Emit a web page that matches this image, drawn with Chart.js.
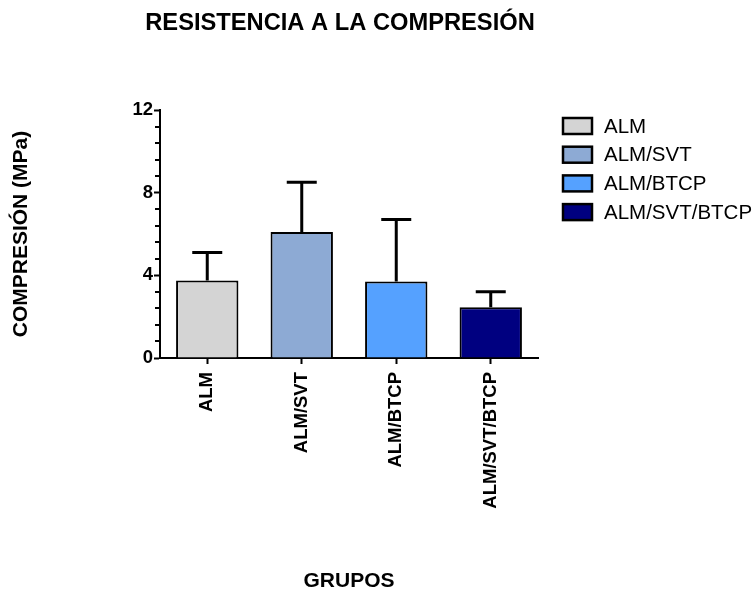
<!DOCTYPE html>
<html>
<head>
<meta charset="utf-8">
<script src="https://cdn.jsdelivr.net/npm/chart.js@4/dist/chart.umd.min.js"></script>
<style>
  html, body { margin: 0; padding: 0; background: #ffffff; }
  #wrap { width: 754px; height: 595px; }
</style>
</head>
<body>
<div id="wrap"><canvas id="grafico" width="754" height="595"></canvas></div>
<script>
// Compression strength per group (mean and standard deviation, MPa)
const grupos = ['ALM', 'ALM/SVT', 'ALM/BTCP', 'ALM/SVT/BTCP'];
const mediaCompresion = [3.75, 6.1, 3.7, 2.45];
const desviacion = [1.35, 2.4, 3.0, 0.75];
const coloresGrupo = ['#D4D4D4', '#8DAAD4', '#55A1FF', '#000080'];
const marcasY = [0, 4, 8, 12];
const pasoMenorY = 0.8;

const titulo = 'RESISTENCIA A LA COMPRESIÓN';
const tituloY = 'COMPRESIÓN (MPa)';
const tituloX = 'GRUPOS';

const FAMILIA = '"Liberation Sans", Arial, Helvetica, sans-serif';

// Upper error bars (mean + SD) with caps
const barrasError = {
  id: 'barrasError',
  afterDatasetsDraw(chart) {
    const { ctx } = chart;
    const meta = chart.getDatasetMeta(0);
    const y = chart.scales.y;
    ctx.save();
    ctx.strokeStyle = '#000';
    ctx.lineWidth = 3;
    ctx.lineCap = 'butt';
    meta.data.forEach((bar, i) => {
      const yTop = y.getPixelForValue(mediaCompresion[i] + desviacion[i]);
      const yBase = bar.y;
      ctx.beginPath();
      ctx.moveTo(bar.x, yBase);
      ctx.lineTo(bar.x, yTop);
      ctx.moveTo(bar.x - 15, yTop);
      ctx.lineTo(bar.x + 15, yTop);
      ctx.stroke();
    });
    ctx.restore();
  }
};

// Short minor ticks on the value axis
const marcasMenores = {
  id: 'marcasMenores',
  afterDraw(chart) {
    const { ctx } = chart;
    const y = chart.scales.y;
    const x0 = chart.chartArea.left;
    ctx.save();
    ctx.strokeStyle = '#000';
    ctx.lineWidth = 2;
    const n = Math.round((y.max - y.min) / pasoMenorY);
    for (let k = 0; k <= n; k++) {
      const v = y.min + k * pasoMenorY;
      if (marcasY.some(m => Math.abs(m - v) < 1e-6)) continue;
      const py = Math.round(y.getPixelForValue(v));
      ctx.beginPath();
      ctx.moveTo(x0, py);
      ctx.lineTo(x0 - 5, py);
      ctx.stroke();
    }
    ctx.restore();
  }
};

// Chart title and group legend
const tituloYLeyenda = {
  id: 'tituloYLeyenda',
  afterDraw(chart) {
    const { ctx } = chart;
    ctx.save();
    ctx.fillStyle = '#000';
    ctx.font = 'bold 23.7px ' + FAMILIA;
    ctx.textAlign = 'center';
    ctx.textBaseline = 'middle';
    ctx.fillText(titulo, 340, 23);

    ctx.font = '20.5px ' + FAMILIA;
    ctx.textAlign = 'left';
    grupos.forEach((g, i) => {
      const cy = 126 + i * 28.7;
      ctx.fillStyle = coloresGrupo[i];
      ctx.fillRect(563, cy - 8, 29, 16);
      ctx.strokeStyle = '#000';
      ctx.lineWidth = 2.5;
      ctx.strokeRect(563, cy - 8, 29, 16);
      ctx.fillStyle = '#000';
      ctx.fillText(g, 604, cy + 1);
    });
    ctx.restore();
  }
};

new Chart(document.getElementById('grafico'), {
  type: 'bar',
  data: {
    labels: grupos,
    datasets: [{
      label: tituloY,
      data: mediaCompresion,
      backgroundColor: coloresGrupo,
      borderColor: '#000',
      borderWidth: 2,
      borderSkipped: 'bottom',
      categoryPercentage: 1,
      barPercentage: 0.66
    }]
  },
  options: {
    responsive: false,
    animation: false,
    devicePixelRatio: 1,
    layout: { padding: { left: 9, top: 110, right: 216, bottom: 1 } },
    plugins: {
      legend: { display: false },
      title: { display: false },
      tooltip: { enabled: false }
    },
    scales: {
      x: {
        offset: true,
        afterFit(scale) { scale.height = 236; },
        border: { display: true, color: '#000', width: 2 },
        grid: {
          offset: false,
          drawOnChartArea: false,
          drawTicks: true,
          tickLength: 6,
          tickWidth: 2,
          tickColor: '#000'
        },
        ticks: {
          minRotation: 90,
          maxRotation: 90,
          padding: 8,
          color: '#000',
          font: { family: FAMILIA, size: 18.5, weight: 'bold' }
        },
        title: {
          display: true,
          text: tituloX,
          color: '#000',
          padding: 0,
          font: { family: FAMILIA, size: 21, weight: 'bold' }
        }
      },
      y: {
        min: 0,
        max: 12,
        afterFit(scale) { scale.width = 151; },
        afterBuildTicks(scale) { scale.ticks = marcasY.map(v => ({ value: v })); },
        border: { display: true, color: '#000', width: 2 },
        grid: {
          drawOnChartArea: false,
          drawTicks: true,
          tickLength: 6,
          tickWidth: 2,
          tickColor: '#000'
        },
        ticks: {
          padding: 1,
          color: '#000',
          font: { family: FAMILIA, size: 18.5, weight: 'bold' }
        },
        title: {
          display: true,
          text: tituloY,
          color: '#000',
          padding: 0,
          font: { family: FAMILIA, size: 21, weight: 'bold' }
        }
      }
    }
  },
  plugins: [barrasError, marcasMenores, tituloYLeyenda]
});
</script>
</body>
</html>
